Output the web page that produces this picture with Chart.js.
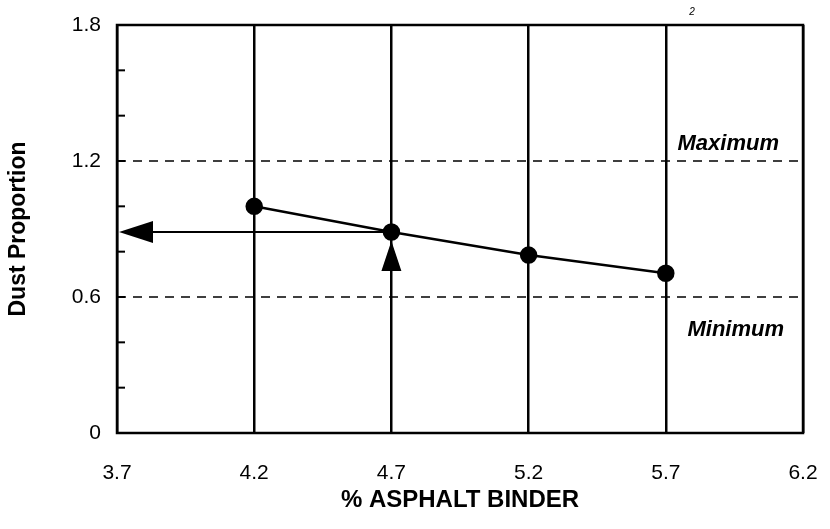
<!DOCTYPE html>
<html>
<head>
<meta charset="utf-8">
<script src="https://cdn.jsdelivr.net/npm/chart.js@4"></script>
<style>
  html, body { margin: 0; padding: 0; background: #fff; }
  #wrap { width: 830px; height: 529px; }
</style>
</head>
<body>
<div id="wrap"><canvas id="dustChart"></canvas></div>
<script>
// data
const binder = [4.2, 4.7, 5.2, 5.7];
const dust = [1.0, 0.887, 0.785, 0.705];
const xTicks = [3.7, 4.2, 4.7, 5.2, 5.7, 6.2];
const yTicks = [0, 0.6, 1.2, 1.8];
const yMinorTicks = [0.2, 0.4, 0.6, 0.8, 1.0, 1.2, 1.4, 1.6];
const limits = [
    { value: 1.2, label: 'Maximum' },
    { value: 0.6, label: 'Minimum' },
];
const designBinder = 4.7;   // chosen binder content
const designDust = 0.887;   // dust proportion read at that content

const font = "'Liberation Sans', Arial, Helvetica, sans-serif";

// frame, limit lines, arrows, small ticks
const extras = {
    id: 'extras',
    beforeDatasetsDraw(chart) {
        const { ctx, chartArea: a, scales: { x, y } } = chart;
        ctx.save();

        // dashed limit lines
        ctx.strokeStyle = '#000';
        ctx.lineWidth = 1.3;
        ctx.setLineDash([9, 7]);
        limits.forEach(l => {
            const py = y.getPixelForValue(l.value);
            ctx.beginPath();
            ctx.moveTo(a.left, py);
            ctx.lineTo(a.right, py);
            ctx.stroke();
        });
        ctx.setLineDash([]);

        // horizontal arrow line back to the y axis
        const ay = y.getPixelForValue(designDust);
        const ax = x.getPixelForValue(designBinder);
        ctx.lineWidth = 2;
        ctx.beginPath();
        ctx.moveTo(a.left + 20, ay);
        ctx.lineTo(ax, ay);
        ctx.stroke();
        ctx.restore();
    },
    afterDatasetsDraw(chart) {
        const { ctx, chartArea: a, scales: { x, y } } = chart;
        ctx.save();
        ctx.fillStyle = '#000';
        ctx.strokeStyle = '#000';

        const ay = y.getPixelForValue(designDust);
        const ax = x.getPixelForValue(designBinder);

        // left arrow head
        ctx.beginPath();
        ctx.moveTo(a.left + 2, ay);
        ctx.lineTo(a.left + 36, ay - 11);
        ctx.lineTo(a.left + 36, ay + 11);
        ctx.closePath();
        ctx.fill();

        // upward arrow head under the design point
        ctx.beginPath();
        ctx.moveTo(ax, ay + 9);
        ctx.lineTo(ax - 10, ay + 39);
        ctx.lineTo(ax + 10, ay + 39);
        ctx.closePath();
        ctx.fill();

        // minor ticks on the left axis
        ctx.lineWidth = 2;
        yMinorTicks.forEach(v => {
            const py = y.getPixelForValue(v);
            ctx.beginPath();
            ctx.moveTo(a.left, py);
            ctx.lineTo(a.left + 8, py);
            ctx.stroke();
        });

        // plot frame
        ctx.lineWidth = 2.5;
        ctx.strokeRect(a.left, a.top, a.right - a.left, a.bottom - a.top);

        // limit labels
        ctx.font = `italic bold 22px ${font}`;
        ctx.textAlign = 'right';
        ctx.textBaseline = 'alphabetic';
        ctx.fillText(limits[0].label, a.right - 24, y.getPixelForValue(limits[0].value) - 11);
        ctx.fillText(limits[1].label, a.right - 19, y.getPixelForValue(limits[1].value) + 39);

        // small stray mark at the top of the scan
        ctx.font = `italic 10px ${font}`;
        ctx.textAlign = 'center';
        ctx.textBaseline = 'middle';
        ctx.fillText('2', 692, 12);
        ctx.restore();
    }
};

new Chart(document.getElementById('dustChart'), {
    type: 'scatter',
    data: {
        datasets: [{
            data: binder.map((b, i) => ({ x: b, y: dust[i] })),
            showLine: true,
            borderColor: '#000',
            backgroundColor: '#000',
            borderWidth: 2.5,
            pointRadius: 7.5,
            pointHoverRadius: 7.5,
        }],
    },
    options: {
        responsive: true,
        maintainAspectRatio: false,
        animation: false,
        layout: { padding: { top: 25, right: 27, left: 0, bottom: 0 } },
        plugins: {
            legend: { display: false },
            tooltip: { enabled: false },
        },
        scales: {
            x: {
                type: 'linear',
                min: 3.7,
                max: 6.2,
                afterBuildTicks: s => { s.ticks = xTicks.map(v => ({ value: v })); },
                afterFit: s => {
                    s.height = 96;
                    s.paddingLeft = 0;
                    s.paddingRight = 0;
                },
                grid: {
                    color: '#000',
                    lineWidth: 2.5,
                    drawTicks: false,
                },
                border: { display: false },
                ticks: {
                    padding: 28,
                    color: '#000',
                    font: { family: font, size: 21 },
                    callback: v => v.toFixed(1),
                },
                title: {
                    display: true,
                    text: '% ASPHALT BINDER',
                    color: '#000',
                    font: { family: font, size: 24, weight: 'bold' },
                    padding: { top: 0, bottom: 14 },
                },
            },
            y: {
                type: 'linear',
                min: 0,
                max: 1.8,
                afterBuildTicks: s => { s.ticks = yTicks.map(v => ({ value: v })); },
                afterFit: s => {
                    s.width = 117;
                    s.paddingTop = 0;
                    s.paddingBottom = 0;
                },
                grid: { display: false, drawTicks: false },
                border: { display: false },
                ticks: {
                    padding: 16,
                    color: '#000',
                    font: { family: font, size: 21 },
                    callback: v => (v === 0 ? '0' : v.toFixed(1)),
                },
                title: {
                    display: true,
                    text: 'Dust Proportion',
                    color: '#000',
                    font: { family: font, size: 23, weight: 'bold' },
                    padding: { top: 5, bottom: 0 },
                },
            },
        },
    },
    plugins: [extras],
});
</script>
</body>
</html>
